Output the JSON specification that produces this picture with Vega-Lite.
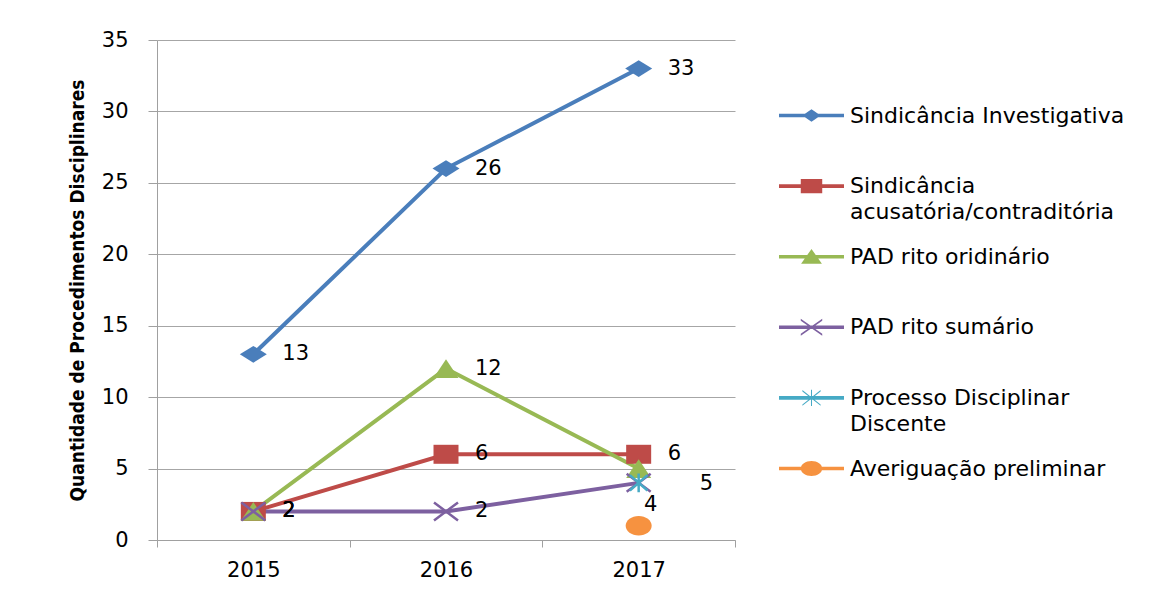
{
  "$schema": "https://vega.github.io/schema/vega-lite/v6.json",
  "width": 578,
  "height": 500,
  "autosize": {"type": "none"},
  "padding": {"left": 157, "top": 40, "right": 441, "bottom": 51},
  "background": "white",
  "config": {"font": "DejaVu Sans", "view": {"stroke": null}},
  "resolve": {"scale": {"color": "independent", "shape": "independent"}},
  "data": {
    "values": [
      {"series": "Sindicância Investigativa", "year": 2015, "value": 13},
      {"series": "Sindicância Investigativa", "year": 2016, "value": 26},
      {"series": "Sindicância Investigativa", "year": 2017, "value": 33},
      {"series": "Sindicância acusatória/contraditória", "year": 2015, "value": 2},
      {"series": "Sindicância acusatória/contraditória", "year": 2016, "value": 6},
      {"series": "Sindicância acusatória/contraditória", "year": 2017, "value": 6},
      {"series": "PAD rito oridinário", "year": 2015, "value": 2},
      {"series": "PAD rito oridinário", "year": 2016, "value": 12},
      {"series": "PAD rito oridinário", "year": 2017, "value": 5},
      {"series": "PAD rito sumário", "year": 2015, "value": 2},
      {"series": "PAD rito sumário", "year": 2016, "value": 2},
      {"series": "PAD rito sumário", "year": 2017, "value": 4},
      {"series": "Processo Disciplinar Discente", "year": 2017, "value": 4},
      {"series": "Averiguação preliminar", "year": 2017, "value": 1}
    ]
  },
  "encoding": {
    "x": {
      "field": "year", "type": "ordinal", "bandPosition": 0.5,
      "scale": {"type": "band", "paddingInner": 0, "paddingOuter": 0},
      "axis": {"title": null, "labelAngle": 0, "labelFontSize": 21, "labelColor": "#000", "labelPadding": 12, "labelBaseline": "top", "tickBand": "extent", "tickSize": 7, "tickColor": "#a0a0a0", "domainColor": "#a0a0a0", "grid": false}
    },
    "y": {
      "field": "value", "type": "quantitative",
      "scale": {"domain": [0, 35]},
      "axis": {"title": "Quantidade de Procedimentos Disciplinares", "values": [0, 5, 10, 15, 20, 25, 30, 35], "tickSize": 9, "labelPadding": 20, "labelFontSize": 21, "labelColor": "#000", "tickColor": "#a0a0a0", "domainColor": "#a0a0a0", "gridColor": "#a6a6a6", "titleFont": "DejaVu Sans Condensed, Liberation Sans", "titleFontWeight": "bold", "titleFontSize": 19, "titleColor": "#000", "titlePadding": 14}
    },
    "color": {
      "field": "series", "type": "nominal",
      "scale": {"domain": ["Sindicância Investigativa", "Sindicância acusatória/contraditória", "PAD rito oridinário", "PAD rito sumário", "Processo Disciplinar Discente", "Averiguação preliminar"], "range": ["#4A7EBB", "#BE4B48", "#98B954", "#7D60A0", "#46AAC5", "#F69240"]},
      "legend": null
    }
  },
  "layer": [
    {"mark": {"type": "line", "strokeWidth": 4}},
    {"transform": [{"filter": "datum.series == 'Sindicância Investigativa'"}], "mark": {"type": "point", "filled": true, "opacity": 1, "shape": "M0,-0.62L1,0L0,0.62L-1,0Z", "size": 729}},
    {"transform": [{"filter": "datum.series == 'Sindicância acusatória/contraditória'"}], "mark": {"type": "point", "filled": true, "opacity": 1, "shape": "M-1,-0.76H1V0.76H-1Z", "size": 625}},
    {"transform": [{"filter": "datum.series == 'PAD rito oridinário'"}], "mark": {"type": "point", "filled": true, "opacity": 1, "shape": "M0,-0.75L1,0.75H-1Z", "size": 625}},
    {"transform": [{"filter": "datum.series == 'PAD rito sumário'"}], "mark": {"type": "point", "filled": false, "opacity": 1, "strokeWidth": 2.5, "shape": "M-1,-0.75L1,0.75M-1,0.75L1,-0.75", "size": 576}},
    {"transform": [{"filter": "datum.series == 'Processo Disciplinar Discente'"}], "mark": {"type": "point", "filled": false, "opacity": 1, "strokeWidth": 2.5, "shape": "M-0.8,-0.7L0.8,0.7M-0.8,0.7L0.8,-0.7M0,-0.85V0.85", "size": 484}},
    {"transform": [{"filter": "datum.series == 'Averiguação preliminar'"}], "mark": {"type": "point", "filled": true, "opacity": 1, "shape": "M-1,0A1,0.75 0 1,1 1,0A1,0.75 0 1,1 -1,0Z", "size": 676}},
    {
      "transform": [{"filter": "datum.series != 'Processo Disciplinar Discente' && datum.series != 'Averiguação preliminar' && !(datum.series == 'PAD rito oridinário' && datum.year == 2017) && !(datum.series == 'PAD rito sumário' && datum.year == 2017)"}],
      "mark": {"type": "text", "align": "left", "baseline": "middle", "dx": 29, "fontSize": 21},
      "encoding": {"text": {"field": "value", "type": "quantitative"}, "color": {"value": "#000"}}
    },
    {
      "transform": [{"filter": "datum.series == 'PAD rito oridinário' && datum.year == 2017"}],
      "mark": {"type": "text", "align": "left", "baseline": "middle", "dx": 61, "dy": 15, "fontSize": 21},
      "encoding": {"text": {"field": "value", "type": "quantitative"}, "color": {"value": "#000"}}
    },
    {
      "transform": [{"filter": "datum.series == 'Processo Disciplinar Discente'"}],
      "mark": {"type": "text", "align": "center", "baseline": "middle", "dx": 12, "dy": 22, "fontSize": 21},
      "encoding": {"text": {"field": "value", "type": "quantitative"}, "color": {"value": "#000"}}
    },
    {
      "mark": {"type": "point", "filled": true, "opacity": 0},
      "encoding": {
        "color": {
          "field": "series", "type": "nominal",
          "scale": {"domain": ["Sindicância Investigativa", "Sindicância acusatória/contraditória", "PAD rito oridinário", "PAD rito sumário", "Processo Disciplinar Discente", "Averiguação preliminar"], "range": ["#4A7EBB", "#BE4B48", "#98B954", "#7D60A0", "#46AAC5", "#F69240"]},
          "legend": {"title": null, "orient": "none", "legendX": 622, "legendY": 43, "symbolSize": 4225, "labelOffset": 6, "labelFontSize": 22, "labelColor": "#000", "labelLimit": 500, "rowPadding": 0.6, "padding": 0, "symbolOpacity": 1, "symbolStrokeWidth": 0,
            "labelExpr": "datum.label == 'Sindicância acusatória/contraditória' ? ['Sindicância', 'acusatória/contraditória'] : datum.label == 'Processo Disciplinar Discente' ? ['Processo Disciplinar', 'Discente'] : [datum.label, ' ']",
            "encode": {"labels": {"update": {"lineHeight": {"value": 26}}}}}
        },
        "shape": {
          "field": "series", "type": "nominal",
          "scale": {"domain": ["Sindicância Investigativa", "Sindicância acusatória/contraditória", "PAD rito oridinário", "PAD rito sumário", "Processo Disciplinar Discente", "Averiguação preliminar"],
            "range": [
              "M-1,-0.055H1V0.055H-1Z M0,-0.19L0.28,0L0,0.19L-0.28,0Z",
              "M-1,-0.055H1V0.055H-1Z M-0.33,-0.22H0.33V0.22H-0.33Z",
              "M-1,-0.055H1V0.055H-1Z M0,-0.24L0.32,0.22H-0.32Z",
              "M-1,-0.055H1V0.055H-1Z M-0.33,-0.26L0.33,0.2L0.33,0.26L-0.33,-0.2Z M-0.33,0.2L0.33,-0.26L0.33,-0.2L-0.33,0.26Z",
              "M-1,-0.055H1V0.055H-1Z M-0.28,-0.24L0.28,0.2L0.28,0.24L-0.28,-0.2Z M-0.28,0.2L0.28,-0.24L0.28,-0.2L-0.28,0.24Z M-0.016,-0.25H0.016V0.25H-0.016Z",
              "M-1,-0.055H1V0.055H-1Z M-0.33,0A0.33,0.23 0 1,1 0.33,0A0.33,0.23 0 1,1 -0.33,0Z"
            ]},
          "legend": {"title": null, "orient": "none", "legendX": 622, "legendY": 43, "symbolSize": 4225, "labelOffset": 6, "labelFontSize": 22, "labelColor": "#000", "labelLimit": 500, "rowPadding": 0.6, "padding": 0, "symbolOpacity": 1, "symbolStrokeWidth": 0,
            "labelExpr": "datum.label == 'Sindicância acusatória/contraditória' ? ['Sindicância', 'acusatória/contraditória'] : datum.label == 'Processo Disciplinar Discente' ? ['Processo Disciplinar', 'Discente'] : [datum.label, ' ']",
            "encode": {"labels": {"update": {"lineHeight": {"value": 26}}}}}
        }
      }
    }
  ]
}
